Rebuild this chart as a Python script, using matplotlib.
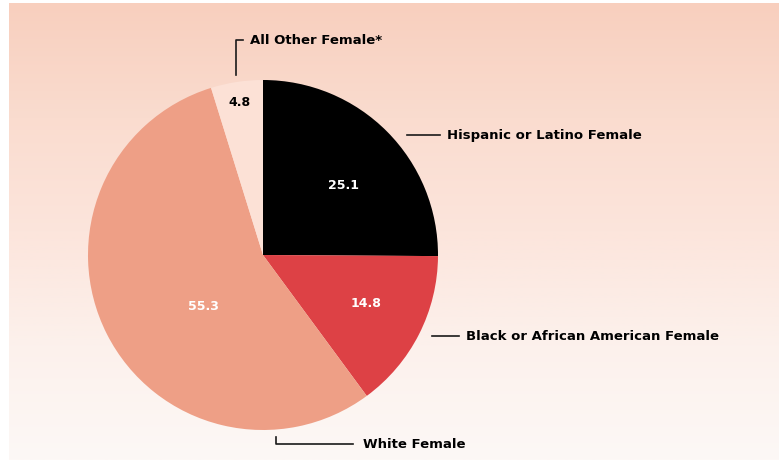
import numpy as np
import matplotlib
matplotlib.use("Agg")
import matplotlib.pyplot as plt
from matplotlib.colors import LinearSegmentedColormap

# === Data ===
groups = ["Hispanic or Latino Female", "Black or African American Female",
          "White Female", "All Other Female*"]
shares = [25.1, 14.8, 55.3, 4.8]
colors = ["#000000", "#DD4145", "#EE9F86", "#FCE1D6"]
value_colors = ["white", "white", "white", "black"]
value_r = [0.61, 0.65, 0.45, 0.88]   # radial position of value labels
value_dang = [-4, 2, 14, 0]          # angular nudge (deg) of value labels

plt.rcParams['font.family'] = ['DejaVu Sans']

W, H = 779, 463
fig = plt.figure(figsize=(W / 100, H / 100), dpi=100)
fig.patch.set_facecolor("white")

# === Background panel with vertical gradient (pixel coords) ===
bg = fig.add_axes([0, 0, 1, 1])
bg.set_xlim(0, W)
bg.set_ylim(H, 0)
bg.axis("off")
grad_cmap = LinearSegmentedColormap.from_list(
    "bg", ["#F8CFBE", "#FADCCF", "#FCE5DC", "#FCF1EC", "#FDF8F6"])
grad = np.linspace(0, 1, 256).reshape(-1, 1)
bg.imshow(grad, cmap=grad_cmap, aspect="auto", extent=[9, W, 460, 3],
          interpolation="bilinear", zorder=0)

# === Pie ===
cx, cy, r = 263, 255, 175
pie_ax = fig.add_axes([(cx - r) / W, (H - cy - r) / H, 2 * r / W, 2 * r / H])
wedges, _ = pie_ax.pie(shares, colors=colors, startangle=90, counterclock=False,
                       radius=1, wedgeprops=dict(linewidth=0))
pie_ax.set_xlim(-1, 1)
pie_ax.set_ylim(-1, 1)
pie_ax.set_aspect("equal")
pie_ax.axis("off")

for w, val, tc, vr, da in zip(wedges, shares, value_colors, value_r, value_dang):
    ang = np.deg2rad((w.theta1 + w.theta2) / 2 + da)
    pie_ax.text(vr * np.cos(ang), vr * np.sin(ang), f"{val:.1f}",
                ha="center", va="center", color=tc,
                fontsize=9, fontweight="bold")

# === Leader lines and category labels ===
lc = "#1a1a1a"
lw = 1.2
fs = 9.5
# Hispanic
bg.plot([407, 440], [135, 135], color=lc, lw=lw)
bg.text(447, 135, groups[0], ha="left", va="center", fontsize=fs, fontweight="bold")
# Black
bg.plot([432, 459], [336, 336], color=lc, lw=lw)
bg.text(466, 336, groups[1], ha="left", va="center", fontsize=fs, fontweight="bold")
# White
bg.plot([276, 276, 353], [437, 444, 444], color=lc, lw=lw)
bg.text(363, 444, groups[2], ha="left", va="center", fontsize=fs, fontweight="bold")
# All other
bg.plot([236, 236, 243], [75, 40, 40], color=lc, lw=lw)
bg.text(250, 40, groups[3], ha="left", va="center", fontsize=fs, fontweight="bold")

fig.savefig("out.png", dpi=100, facecolor=fig.get_facecolor())
